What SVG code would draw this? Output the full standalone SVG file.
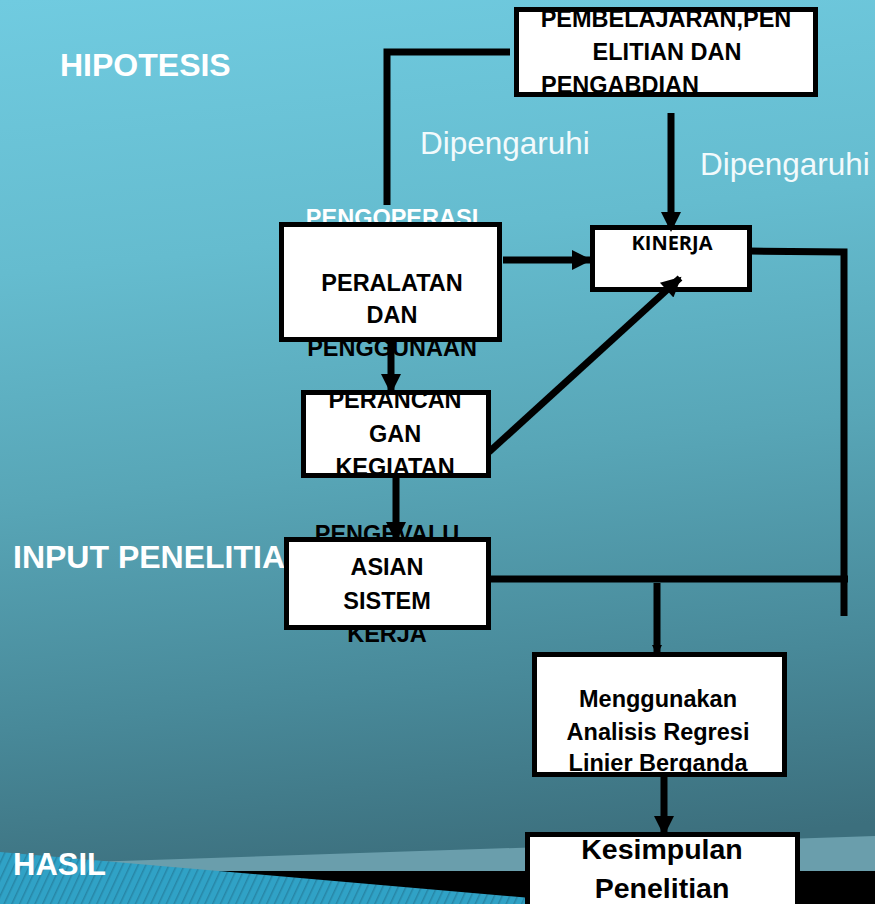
<svg xmlns="http://www.w3.org/2000/svg" width="875" height="904" viewBox="0 0 875 904">
<defs>
<linearGradient id="bg" x1="0" y1="0" x2="0.1" y2="1">
<stop offset="0" stop-color="#70cbe0"/>
<stop offset="0.3" stop-color="#65bccf"/>
<stop offset="0.55" stop-color="#58a6b7"/>
<stop offset="0.8" stop-color="#488999"/>
<stop offset="1" stop-color="#3c6f7d"/>
</linearGradient>
<pattern id="stripes" width="7" height="7" patternUnits="userSpaceOnUse" patternTransform="rotate(25)">
<rect width="7" height="7" fill="#30a2c6"/>
<rect width="1.5" height="7" fill="#2786a6"/>
</pattern>
<marker id="ah" viewBox="0 0 10 10" refX="9" refY="5" markerWidth="22" markerHeight="20" markerUnits="userSpaceOnUse" orient="auto">
<path d="M0,0 L10,5 L0,10 z" fill="#000"/>
</marker>
<marker id="ahs" viewBox="0 0 10 10" refX="9" refY="5" markerWidth="10" markerHeight="16" markerUnits="userSpaceOnUse" orient="auto">
<path d="M0,0 L10,5 L0,10 z" fill="#000"/>
</marker>
</defs>
<style>
.box{fill:#fff;stroke:#000;stroke-width:5}
.t{font-family:"Liberation Sans",Arial,sans-serif;font-weight:bold;font-size:23.5px;fill:#000;text-anchor:middle}
.w{fill:#fff}
.lbl{font-family:"Liberation Sans",Arial,sans-serif;font-weight:bold;font-size:32px;fill:#fff}
.dp{font-family:"Liberation Sans",Arial,sans-serif;font-size:31.5px;fill:#f2fafc}
.c{fill:none;stroke:#000;stroke-width:7}
</style>
<rect width="875" height="904" fill="url(#bg)"/>
<g id="decor">
<polygon points="90,862 875,836 875,904 0,904" fill="#6a9eac"/>
<rect x="200" y="871" width="675" height="33" fill="#000"/>
<polygon points="0,852 600,904 0,904" fill="url(#stripes)"/>
</g>
<g id="labels">
<text class="lbl" x="60" y="76">HIPOTESIS</text>
<text class="lbl" x="13" y="568">INPUT PENELITIA</text>
<text class="lbl" x="13" y="875" style="font-size:31px">HASIL</text>
<text class="dp" x="420" y="154">Dipengaruhi</text>
<text class="dp" x="700" y="175">Dipengaruhi</text>
</g>
<g id="n-top">
<rect class="box" x="516.5" y="9.5" width="299" height="85"/>
<text class="t" x="666" y="27">PEMBELAJARAN,PEN</text>
<text class="t" x="667" y="60">ELITIAN DAN</text>
<text class="t" x="541" y="93" style="text-anchor:start">PENGABDIAN</text>
</g>
<g id="n-peralatan">
<text class="t w" x="392" y="226">PENGOPERASI</text>
<rect class="box" x="281.5" y="224.5" width="218" height="115"/>
<text class="t" x="392" y="291">PERALATAN</text>
<text class="t" x="392" y="323">DAN</text>
<text class="t" x="392" y="356">PENGGUNAAN</text>
</g>
<g id="n-kinerja">
<rect class="box" x="592.5" y="227.5" width="157" height="62"/>
<text x="672" y="250" style="font-family:'Open Sans','Noto Sans',sans-serif;font-weight:bold;font-size:20px;text-anchor:middle">KINERJA</text>
</g>
<g id="n-perancangan">
<rect class="box" x="303.5" y="392.5" width="185" height="83"/>
<text class="t" x="395" y="408">PERANCAN</text>
<text class="t" x="395" y="442">GAN</text>
<text class="t" x="395" y="475">KEGIATAN</text>
</g>
<g id="n-evaluasi">
<rect class="box" x="286.5" y="539.5" width="202" height="88"/>
<text class="t" x="387" y="542">PENGEVALU</text>
<text class="t" x="387" y="575">ASIAN</text>
<text class="t" x="387" y="609">SISTEM</text>
<text class="t" x="387" y="642">KERJA</text>
</g>
<g id="n-regresi">
<rect class="box" x="534.5" y="654.5" width="250" height="120"/>
<text class="t" x="658" y="707">Menggunakan</text>
<text class="t" x="658" y="740">Analisis Regresi</text>
<text class="t" x="658" y="771">Linier Berganda</text>
</g>
<g id="n-kesimpulan">
<rect class="box" x="527.5" y="834.5" width="270" height="75"/>
<text class="t" x="662" y="859" style="font-size:28.5px">Kesimpulan</text>
<text class="t" x="662" y="898" style="font-size:28.5px">Penelitian</text>
</g>
<g id="connectors">
<polyline class="c" points="510,52 387,52 387,205"/>
<line class="c" x1="671" y1="113" x2="671" y2="230" marker-end="url(#ah)"/>
<line class="c" x1="503" y1="260" x2="590" y2="260" marker-end="url(#ah)"/>
<line class="c" x1="489" y1="452" x2="680" y2="278" marker-end="url(#ah)"/>
<line class="c" x1="391" y1="342" x2="391" y2="392" marker-end="url(#ah)"/>
<line class="c" x1="396" y1="478" x2="396" y2="540" marker-end="url(#ah)"/>
<polyline class="c" points="750,251 844,252 844,616"/>
<line class="c" x1="490" y1="579" x2="848" y2="579"/>
<line class="c" x1="657" y1="583" x2="657" y2="654" marker-end="url(#ahs)"/>
<line class="c" x1="664" y1="777" x2="664" y2="834" marker-end="url(#ah)"/>
</g>
</svg>
